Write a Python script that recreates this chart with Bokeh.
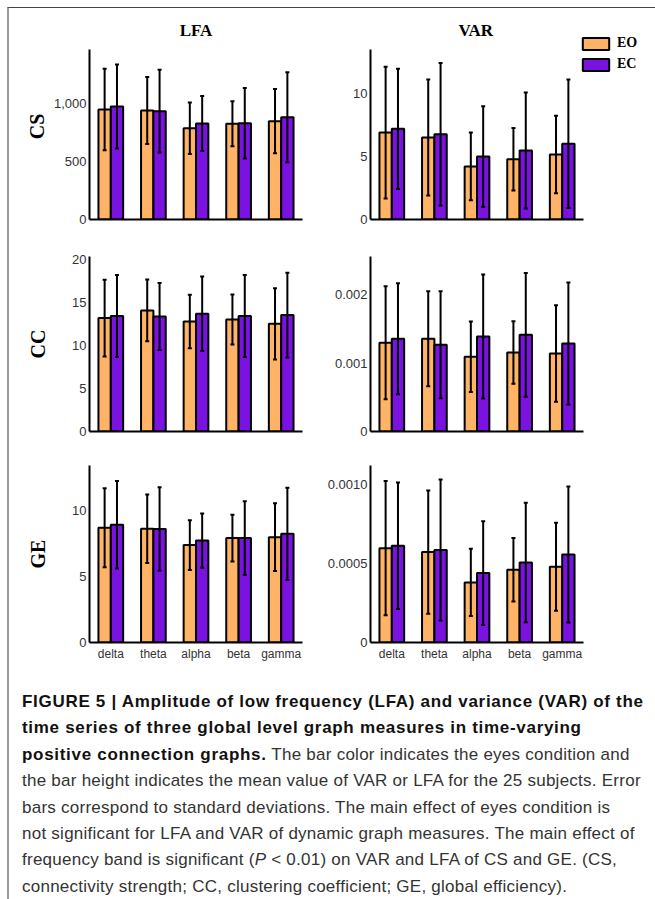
from bokeh.plotting import figure
from bokeh.models import (Range1d, FixedTicker, ColumnDataSource, Whisker, TeeHead,
                          Legend, LegendItem, Div)
from bokeh.layouts import row, column
from bokeh.embed import file_html
from bokeh.resources import INLINE

# ---------------- data ----------------
bands = ["delta", "theta", "alpha", "beta", "gamma"]
conditions = ["EO", "EC"]

cs_lfa_eo_mean = [948, 940, 787, 825, 848]
cs_lfa_eo_sd = [351, 289, 223, 194, 277]
cs_lfa_ec_mean = [974, 934, 828, 830, 882]
cs_lfa_ec_sd = [362, 357, 238, 305, 388]

cs_var_eo_mean = [6.90, 6.51, 4.21, 4.79, 5.16]
cs_var_eo_sd = [5.24, 4.60, 2.69, 2.48, 3.07]
cs_var_ec_mean = [7.20, 6.77, 5.00, 5.48, 6.01]
cs_var_ec_sd = [4.78, 5.65, 4.00, 4.61, 5.10]

cc_lfa_eo_mean = [13.16, 14.04, 12.76, 12.99, 12.49]
cc_lfa_eo_sd = [4.45, 3.58, 3.11, 2.89, 4.13]
cc_lfa_ec_mean = [13.39, 13.34, 13.65, 13.39, 13.50]
cc_lfa_ec_sd = [4.75, 3.88, 4.32, 4.75, 4.91]

cc_var_eo_mean = [0.001298, 0.001357, 0.001093, 0.001156, 0.001141]
cc_var_eo_sd = [0.000827, 0.000695, 0.000516, 0.000458, 0.000705]
cc_var_ec_mean = [0.001357, 0.001269, 0.001390, 0.001415, 0.001288]
cc_var_ec_sd = [0.000812, 0.000783, 0.000908, 0.000905, 0.000893]

ge_lfa_eo_mean = [8.71, 8.63, 7.40, 7.93, 8.00]
ge_lfa_eo_sd = [3.00, 2.60, 1.89, 1.77, 2.57]
ge_lfa_ec_mean = [8.94, 8.61, 7.74, 7.93, 8.25]
ge_lfa_ec_sd = [3.33, 3.17, 2.06, 2.80, 3.50]

ge_var_eo_mean = [0.000597, 0.000572, 0.000380, 0.000460, 0.000479]
ge_var_eo_sd = [0.000425, 0.000390, 0.000213, 0.000201, 0.000278]
ge_var_ec_mean = [0.000612, 0.000585, 0.000439, 0.000506, 0.000557]
ge_var_ec_sd = [0.000400, 0.000446, 0.000329, 0.000378, 0.000430]

cs_lfa_ticks = [0, 500, 1000]
cs_lfa_tick_labels = ["0", "500", "1,000"]
cs_var_ticks = [0, 5, 10]
cs_var_tick_labels = ["0", "5", "10"]
cc_lfa_ticks = [0, 5, 10, 15, 20]
cc_lfa_tick_labels = ["0", "5", "10", "15", "20"]
cc_var_ticks = [0, 0.001, 0.002]
cc_var_tick_labels = ["0", "0.001", "0.002"]
ge_lfa_ticks = [0, 5, 10]
ge_lfa_tick_labels = ["0", "5", "10"]
ge_var_ticks = [0, 0.0005, 0.0010]
ge_var_tick_labels = ["0", "0.0005", "0.0010"]

col_titles = ["LFA", "VAR"]
row_labels = ["CS", "CC", "GE"]

# ---------------- style ----------------
ORANGE = "#FFB366"
PURPLE = "#7A12E0"
SERIF = "Liberation Serif"
SANS = "Liberation Sans"
AXIS_PX = 213          # drawn length of each x axis
N = len(bands)


def make_panel(eo_mean, eo_sd, ec_mean, ec_sd, ymax, ticks, tick_labels,
               width, height, mbl, mbr, mbt, mbb, axis_h, title=None, title_offset=None,
               ylabel=None, ylabel_standoff=0, show_x=False, legend=False):
    xs = list(range(1, N + 1))
    frame_w = width - mbl - mbr
    frame_h = height - mbt - mbb
    x_end = 0.5 + N * frame_w / AXIS_PX
    y_end = ymax * frame_h / axis_h
    p = figure(width=width, height=height, x_range=Range1d(0.5, x_end),
               y_range=Range1d(0, y_end), output_backend="svg", toolbar_location=None,
               min_border_left=mbl, min_border_right=mbr, min_border_top=mbt,
               min_border_bottom=mbb)
    p.grid.visible = False
    p.outline_line_color = None
    p.border_fill_color = "white"
    p.background_fill_color = "white"

    src_eo = ColumnDataSource(dict(
        x=[i - 0.145 for i in xs], top=eo_mean,
        lower=[m - s for m, s in zip(eo_mean, eo_sd)],
        upper=[m + s for m, s in zip(eo_mean, eo_sd)]))
    src_ec = ColumnDataSource(dict(
        x=[i + 0.145 for i in xs], top=ec_mean,
        lower=[m - s for m, s in zip(ec_mean, ec_sd)],
        upper=[m + s for m, s in zip(ec_mean, ec_sd)]))
    r_eo = p.vbar(x="x", top="top", bottom=0, width=0.29, source=src_eo,
                  fill_color=ORANGE, line_color="black", line_width=2)
    r_ec = p.vbar(x="x", top="top", bottom=0, width=0.29, source=src_ec,
                  fill_color=PURPLE, line_color="black", line_width=2)
    for src in (src_eo, src_ec):
        w = Whisker(source=src, base="x", lower="lower", upper="upper",
                    line_color="black", line_width=2, level="annotation",
                    upper_head=TeeHead(size=4, line_width=2, line_color="black"),
                    lower_head=TeeHead(size=4, line_width=2, line_color="black"))
        p.add_layout(w)

    for ax in (p.xaxis[0], p.yaxis[0]):
        ax.axis_line_color = "black"
        ax.axis_line_width = 2
        ax.major_tick_line_color = None
        ax.minor_tick_line_color = None
        ax.major_tick_out = 0
        ax.major_tick_in = 0
        ax.major_label_text_font = SANS
        ax.major_label_text_color = "#333333"
        ax.major_label_standoff = 3
    p.yaxis.major_label_text_font_size = "13px"
    p.xaxis.major_label_text_font_size = "12px"

    p.xaxis.bounds = (0.5, N + 0.5)
    p.yaxis.bounds = (0, ymax)
    p.yaxis.ticker = FixedTicker(ticks=ticks)
    p.yaxis.major_label_overrides = {t: l for t, l in zip(ticks, tick_labels)}
    p.xaxis.ticker = FixedTicker(ticks=xs)
    p.xaxis.major_label_overrides = {i: b for i, b in zip(xs, bands)}
    p.xaxis.major_label_standoff = 4
    if not show_x:
        p.xaxis.major_label_text_color = None

    if ylabel:
        p.yaxis.axis_label = ylabel
        p.yaxis.axis_label_text_font = SERIF
        p.yaxis.axis_label_text_font_style = "bold"
        p.yaxis.axis_label_text_font_size = "20px"
        p.yaxis.axis_label_text_color = "black"
        p.yaxis.axis_label_standoff = ylabel_standoff

    if title:
        p.title.text = title
        if title_offset is None:
            p.title.align = "center"
        else:
            p.title.align = "left"
            p.title.offset = title_offset
        p.title.text_font = SERIF
        p.title.text_font_style = "bold"
        p.title.text_font_size = "17px"
        p.title.text_color = "black"
        p.title.standoff = -12

    if legend:
        lg = Legend(items=[LegendItem(label=conditions[0], renderers=[r_eo]),
                           LegendItem(label=conditions[1], renderers=[r_ec])],
                    location=(209, 147), padding=0, margin=0, spacing=5,
                    glyph_width=33, glyph_height=15, label_height=15,
                    label_standoff=5, label_text_font=SERIF,
                    label_text_font_style="bold", label_text_font_size="14px",
                    label_text_color="black",
                    border_line_color=None, background_fill_alpha=0)
        p.add_layout(lg)
    return p


LW, RW = 300, 346
L_MB = (80, 7)
R_MB = (61, 5)

# row 1: frame 33..219 (axis drawn 49..219), row 2: 256..431, row 3: 465..642
p11 = make_panel(cs_lfa_eo_mean, cs_lfa_eo_sd, cs_lfa_ec_mean, cs_lfa_ec_sd, 1466,
                 cs_lfa_ticks, cs_lfa_tick_labels, LW, 232, L_MB[0], L_MB[1], 25, 21, 170,
                 title=col_titles[0], ylabel=row_labels[0], ylabel_standoff=3)
p12 = make_panel(cs_var_eo_mean, cs_var_eo_sd, cs_var_ec_mean, cs_var_ec_sd, 13.5,
                 cs_var_ticks, cs_var_tick_labels, RW, 232, R_MB[0], R_MB[1], 25, 21, 170,
                 title=col_titles[1], title_offset=88, legend=True)
p21 = make_panel(cc_lfa_eo_mean, cc_lfa_eo_sd, cc_lfa_ec_mean, cc_lfa_ec_sd, 20.3,
                 cc_lfa_ticks, cc_lfa_tick_labels, LW, 210, L_MB[0], L_MB[1], 16, 19, 175,
                 ylabel=row_labels[1], ylabel_standoff=20)
p22 = make_panel(cc_var_eo_mean, cc_var_eo_sd, cc_var_ec_mean, cc_var_ec_sd, 0.00256,
                 cc_var_ticks, cc_var_tick_labels, RW, 210, R_MB[0], R_MB[1], 16, 19, 175)
p31 = make_panel(ge_lfa_eo_mean, ge_lfa_eo_sd, ge_lfa_ec_mean, ge_lfa_ec_sd, 13.44,
                 ge_lfa_ticks, ge_lfa_tick_labels, LW, 222, L_MB[0], L_MB[1], 15, 30, 177,
                 ylabel=row_labels[2], ylabel_standoff=20, show_x=True)
p32 = make_panel(ge_var_eo_mean, ge_var_eo_sd, ge_var_ec_mean, ge_var_ec_sd, 0.00112,
                 ge_var_ticks, ge_var_tick_labels, RW, 222, R_MB[0], R_MB[1], 15, 30, 177,
                 show_x=True)

BOLD = "font-weight:bold;color:#111;letter-spacing:0.7px;"
caption_html = (
    f'<span style="{BOLD}">FIGURE 5 | Amplitude of low frequency (LFA) and variance (VAR) of the</span><br>'
    f'<span style="{BOLD}">time series of three global level graph measures in time-varying</span><br>'
    f'<span style="{BOLD}">positive connection graphs.</span> The bar color indicates the eyes condition and<br>'
    'the bar height indicates the mean value of VAR or LFA for the 25 subjects. Error<br>'
    'bars correspond to standard deviations. The main effect of eyes condition is<br>'
    'not significant for LFA and VAR of dynamic graph measures. The main effect of<br>'
    'frequency band is significant (<i>P</i> &lt; 0.01) on VAR and LFA of CS and GE. (CS,<br>'
    'connectivity strength; CC, clustering coefficient; GE, global efficiency).'
)
caption = Div(text=caption_html, width=646, height=227, margin=0,
              styles={"font-family": "Liberation Sans", "font-size": "17px",
                      "line-height": "26.4px", "color": "#333", "white-space": "nowrap",
                      "letter-spacing": "0.25px", "padding-left": "13px",
                      "padding-top": "17px"})

left = column(p11, p21, p31, spacing=0)
right = column(p12, p22, p32, spacing=0)
grid = row(left, right, spacing=0)
page = column(grid, caption, spacing=0, margin=(7, 0, 0, 7),
              styles={"border-top": "1px solid #444", "border-left": "2px solid #999"})

open("out.html", "w").write(file_html(page, INLINE))
